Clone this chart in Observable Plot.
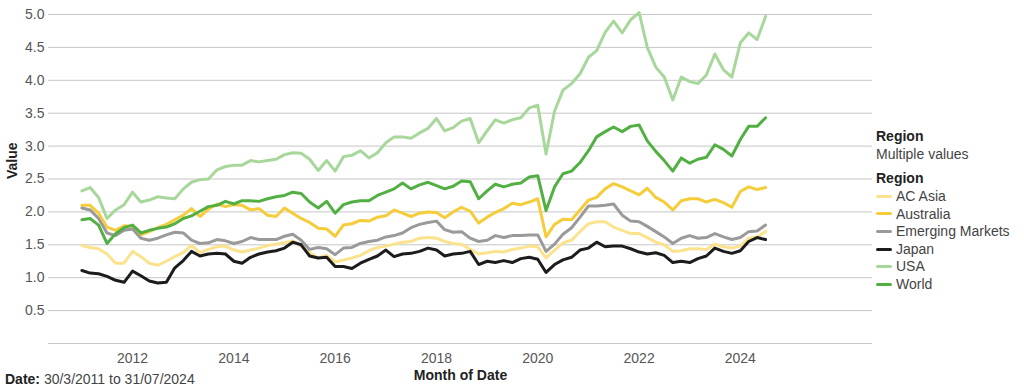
<!DOCTYPE html>
<html><head><meta charset="utf-8">
<script src="https://cdn.jsdelivr.net/npm/d3@7"></script>
<script src="https://cdn.jsdelivr.net/npm/@observablehq/plot@0.6"></script>
<style>
body{margin:0;background:#fff;font-family:"Liberation Sans",Arial,sans-serif;}
#wrap{position:relative;width:1024px;height:389px;overflow:hidden;}
.lg{position:absolute;left:876px;height:16px;line-height:16px;font-size:14px;color:#444;white-space:nowrap;}
.lg b{color:#222;}
.sw{display:inline-block;width:16px;height:3px;border-radius:2px;vertical-align:middle;margin-right:4px;position:relative;top:-1px;}
#cap{position:absolute;left:5px;top:371px;font-size:14px;line-height:16px;color:#444;}
#cap b{color:#222;}
</style></head><body><div id="wrap"></div>
<script>
const dates = ["2011-01","2011-03","2011-05","2011-07","2011-09","2011-11",
"2012-01","2012-03","2012-05","2012-07","2012-09","2012-11",
"2013-01","2013-03","2013-05","2013-07","2013-09","2013-11",
"2014-01","2014-03","2014-05","2014-07","2014-09","2014-11",
"2015-01","2015-03","2015-05","2015-07","2015-09","2015-11",
"2016-01","2016-03","2016-05","2016-07","2016-09","2016-11",
"2017-01","2017-03","2017-05","2017-07","2017-09","2017-11",
"2018-01","2018-03","2018-05","2018-07","2018-09","2018-11",
"2019-01","2019-03","2019-05","2019-07","2019-09","2019-11",
"2020-01","2020-03","2020-05","2020-07","2020-09","2020-11",
"2021-01","2021-03","2021-05","2021-07","2021-09","2021-11",
"2022-01","2022-03","2022-05","2022-07","2022-09","2022-11",
"2023-01","2023-03","2023-05","2023-07","2023-09","2023-11",
"2024-01","2024-03","2024-05","2024-07"];

const regions = ["AC Asia","Australia","Emerging Markets","Japan","USA","World"];
const colors = ["#fbe38e","#f5cc3a","#9a9a9a","#1c1c1c","#a8d79b","#52b043"];

const acAsia = [1.49,1.46,1.44,1.36,1.22,1.22,1.40,1.32,1.22,1.19,1.25,1.32,1.38,1.49,1.38,1.43,1.47,1.48,1.42,1.39,
1.42,1.45,1.49,1.51,1.53,1.56,1.48,1.38,1.30,1.34,1.24,1.27,1.30,1.34,1.41,1.46,1.48,1.51,1.54,1.55,
1.60,1.61,1.60,1.55,1.52,1.51,1.43,1.36,1.38,1.40,1.39,1.43,1.45,1.48,1.47,1.30,1.42,1.53,
1.57,1.70,1.82,1.85,1.85,1.77,1.72,1.67,1.67,1.61,1.54,1.50,1.40,1.41,1.44,1.44,1.43,1.51,1.47,1.45,1.48,1.60,1.62,1.70];

const australia = [2.10,2.10,1.98,1.77,1.72,1.79,1.78,1.65,1.70,1.76,1.81,1.88,1.95,2.05,1.93,2.04,2.12,2.08,2.11,2.10,
2.03,2.05,1.95,1.93,2.06,1.98,1.90,1.84,1.75,1.74,1.63,1.80,1.82,1.87,1.86,1.92,1.94,2.03,1.98,1.93,
1.98,2.00,1.99,1.91,2.00,2.07,2.01,1.83,1.92,1.99,2.05,2.13,2.11,2.15,2.20,1.62,1.81,1.89,
1.88,2.03,2.18,2.22,2.35,2.43,2.38,2.32,2.26,2.36,2.22,2.15,2.03,2.17,2.20,2.20,2.15,2.19,2.14,2.07,2.31,2.38,2.34,2.37];

const emerging = [2.06,2.03,1.90,1.68,1.64,1.72,1.74,1.60,1.57,1.60,1.65,1.69,1.68,1.57,1.52,1.53,1.58,1.56,1.52,1.55,
1.61,1.58,1.58,1.58,1.63,1.66,1.57,1.43,1.46,1.44,1.35,1.45,1.46,1.52,1.55,1.57,1.62,1.64,1.68,1.76,
1.81,1.84,1.86,1.73,1.69,1.70,1.60,1.55,1.57,1.64,1.61,1.64,1.64,1.65,1.65,1.40,1.51,1.66,
1.76,1.92,2.09,2.09,2.10,2.12,1.95,1.86,1.85,1.78,1.70,1.62,1.52,1.60,1.64,1.60,1.61,1.67,1.62,1.58,1.61,1.70,1.71,1.80];

const japan = [1.11,1.07,1.06,1.02,0.96,0.93,1.10,1.03,0.95,0.92,0.93,1.15,1.26,1.40,1.33,1.36,1.37,1.36,1.25,1.22,
1.31,1.36,1.39,1.41,1.45,1.54,1.50,1.33,1.30,1.31,1.17,1.17,1.14,1.22,1.28,1.33,1.42,1.32,1.36,1.37,
1.40,1.45,1.42,1.33,1.36,1.37,1.40,1.20,1.25,1.23,1.26,1.23,1.29,1.31,1.28,1.08,1.20,1.27,
1.31,1.42,1.45,1.54,1.47,1.48,1.48,1.44,1.39,1.36,1.38,1.34,1.23,1.25,1.23,1.29,1.33,1.45,1.40,1.37,1.41,1.55,1.61,1.58];

const usa = [2.32,2.37,2.22,1.90,2.03,2.11,2.30,2.15,2.18,2.23,2.21,2.20,2.35,2.45,2.49,2.50,2.64,2.69,2.71,2.71,
2.78,2.76,2.78,2.80,2.87,2.90,2.89,2.80,2.63,2.78,2.62,2.84,2.86,2.93,2.82,2.90,3.05,3.14,3.14,3.12,
3.20,3.27,3.42,3.23,3.28,3.38,3.42,3.05,3.23,3.40,3.35,3.40,3.43,3.58,3.62,2.88,3.53,3.85,
3.95,4.10,4.35,4.45,4.73,4.90,4.72,4.92,5.03,4.50,4.20,4.05,3.70,4.05,3.98,3.95,4.08,4.40,4.16,4.05,4.57,4.72,4.62,4.97];

const world = [1.88,1.90,1.80,1.52,1.67,1.76,1.80,1.68,1.72,1.75,1.77,1.82,1.90,1.94,2.01,2.08,2.10,2.16,2.12,2.17,
2.17,2.16,2.20,2.23,2.25,2.30,2.28,2.15,2.06,2.16,1.98,2.11,2.15,2.17,2.17,2.25,2.30,2.35,2.44,2.35,
2.41,2.45,2.40,2.35,2.39,2.47,2.46,2.20,2.32,2.42,2.38,2.42,2.44,2.53,2.55,2.02,2.38,2.58,
2.62,2.75,2.93,3.14,3.22,3.29,3.22,3.30,3.32,3.08,2.92,2.78,2.62,2.82,2.74,2.80,2.83,3.02,2.95,2.85,3.10,3.30,3.30,3.43];

const yTicks = [0.5,1.0,1.5,2.0,2.5,3.0,3.5,4.0,4.5,5.0];
const gridValues = [0,0.5,1.0,1.5,2.0,2.5,3.0,3.5,4.0,4.5,5.0];
const xTicks = ["2012","2014","2016","2018","2020","2022","2024"];

const parseM = d3.utcParse("%Y-%m");
const parseY = d3.utcParse("%Y");
const seriesValues = [acAsia, australia, emerging, japan, usa, world];
const rows = regions.flatMap((r, k) => dates.map((d, i) => ({region: r, date: parseM(d), value: seriesValues[k][i]})));

const chart = Plot.plot({
  width: 1024, height: 389,
  marginLeft: 48, marginRight: 152, marginTop: 14, marginBottom: 46,
  style: {fontFamily: '"Liberation Sans", Arial, sans-serif', fontSize: "14px", color: "#555", background: "transparent"},
  x: {type: "utc", domain: [new Date(Date.UTC(2010, 4, 5)), new Date(Date.UTC(2026, 7, 11))]},
  y: {domain: [0, 5]},
  color: {domain: regions, range: colors},
  marks: [
    Plot.ruleY(gridValues, {stroke: "#c6c6c6", strokeWidth: 1}),
    Plot.axisY(yTicks, {tickSize: 0, tickPadding: 4, tickFormat: d => d.toFixed(1), label: null, fill: "#555"}),
    Plot.axisX(xTicks.map(parseY), {tickSize: 0, tickPadding: 10, tickFormat: "%Y", label: null, fill: "#555"}),
    Plot.text(["Value"], {frameAnchor: "left", dx: -36, rotate: -90, fontWeight: "bold", fill: "#222"}),
    Plot.text(["Month of Date"], {frameAnchor: "bottom", dy: 36, fontWeight: "bold", fill: "#222"}),
    Plot.line(rows, {x: "date", y: "value", z: "region", stroke: "region", strokeWidth: 3, strokeLinejoin: "round", strokeLinecap: "round"})
  ]
});

const wrap = document.getElementById("wrap");
wrap.appendChild(chart);

function addLg(top, html) {
  const d = document.createElement("div");
  d.className = "lg";
  d.style.top = (top - 8) + "px";
  d.innerHTML = html;
  wrap.appendChild(d);
}
addLg(136, "<b>Region</b>");
addLg(154, "Multiple values");
addLg(178, "<b>Region</b>");
regions.forEach((r, i) => {
  addLg(196 + i * 17.6, `<span class="sw" style="background:${colors[i]}"></span>${r}`);
});
const cap = document.createElement("div");
cap.id = "cap";
cap.innerHTML = "<b>Date:</b> 30/3/2011 to 31/07/2024";
wrap.appendChild(cap);
</script>
</body></html>
